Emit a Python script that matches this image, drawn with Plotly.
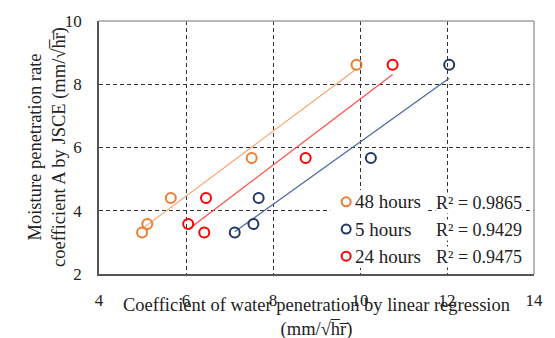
import numpy as np
import plotly.graph_objects as go

# Coefficient of water penetration by linear regression (x) vs
# moisture penetration rate coefficient A by JSCE (y)
series_names = ["48 hours", "5 hours", "24 hours"]
x_48h = [4.99, 5.11, 5.65, 7.51, 9.92]
y_48h = [3.31, 3.58, 4.40, 5.67, 8.62]
x_5h = [7.12, 7.55, 7.67, 10.25, 12.05]
y_5h = [3.31, 3.58, 4.40, 5.67, 8.62]
x_24h = [6.05, 6.42, 6.46, 8.75, 10.75]
y_24h = [3.58, 3.31, 4.40, 5.67, 8.62]
r2_labels = ["R² = 0.9865", "R² = 0.9429", "R² = 0.9475"]

x_ticks = [4, 6, 8, 10, 12, 14]
y_ticks = [2, 4, 6, 8, 10]

marker_colors = ["#ED7D31", "#203864", "#FF0000"]
line_colors = ["#F4A46A", "#4A66A0", "#FF4A4A"]

FONT = "Liberation Serif"
TXT = "#222222"

# plot area in pixels (margins below), used to place the key
L, T, W, H = 99, 18, 440, 256


def px_x(p):
    return (p - L) / W


def px_y(p):
    return (T + H - p) / H


fig = go.Figure()

data = [(x_48h, y_48h), (x_5h, y_5h), (x_24h, y_24h)]

# linear trend lines (least squares) over each series' x range
for (xs, ys), lc in zip(data, line_colors):
    xs_a = np.array(xs)
    k, b = np.polyfit(xs_a, np.array(ys), 1)
    xl = np.array([xs_a.min(), xs_a.max()])
    fig.add_trace(go.Scatter(x=xl, y=k * xl + b, mode="lines",
                             line=dict(color=lc, width=1.2),
                             showlegend=False, hoverinfo="skip"))

for name, (xs, ys), mc in zip(series_names, data, marker_colors):
    fig.add_trace(go.Scatter(x=xs, y=ys, mode="markers", name=name,
                             showlegend=False,
                             marker=dict(symbol="circle-open", size=10,
                                         color=mc, line=dict(width=2, color=mc))))

# key: white panel, open-circle symbols, series names and R² values
fig.add_shape(type="rect", xref="paper", yref="paper", layer="above",
              x0=px_x(333), x1=px_x(430), y0=px_y(268), y1=px_y(189),
              fillcolor="white", line=dict(width=0))
row_y = [201, 228.5, 256]
for name, mc, r2, ry in zip(series_names, marker_colors, r2_labels, row_y):
    fig.add_shape(type="circle", xref="paper", yref="paper", layer="above",
                  xsizemode="pixel", ysizemode="pixel",
                  xanchor=px_x(349), yanchor=px_y(ry),
                  x0=-4.5, x1=4.5, y0=-4.5, y1=4.5,
                  line=dict(color=mc, width=2))
    fig.add_annotation(text=name, xref="paper", yref="paper",
                       x=px_x(357), y=px_y(ry), xanchor="left", yanchor="middle",
                       showarrow=False, borderpad=0,
                       font=dict(family=FONT, size=19, color=TXT))
    fig.add_annotation(text=r2, xref="paper", yref="paper",
                       x=px_x(528), y=px_y(ry + 1), xanchor="right", yanchor="middle",
                       showarrow=False, bgcolor="white", borderpad=0,
                       font=dict(family=FONT, size=18, color=TXT))

# frame: dark left/bottom axes, lighter top/right edges
fig.add_shape(type="line", xref="paper", yref="paper", x0=0, x1=1, y0=1, y1=1,
              line=dict(color="#A0A0A0", width=1.5))
fig.add_shape(type="line", xref="paper", yref="paper", x0=1, x1=1, y0=0, y1=1,
              line=dict(color="#A0A0A0", width=1.5))

fig.add_annotation(text="Coefficient of water penetration by linear regression<br>(mm/√h̅r̅)",
                   xref="paper", yref="paper", x=0.5, y=0, xanchor="center",
                   yanchor="top", yshift=-18.5, showarrow=False,
                   font=dict(family=FONT, size=18.5, color=TXT))
fig.add_annotation(text="Moisture penetration rate<br>coefficient A by JSCE (mm/√h̅r̅)",
                   xref="paper", yref="paper", x=0, y=0.5, xanchor="right",
                   yanchor="middle", xshift=-27, textangle=-90, showarrow=False,
                   font=dict(family=FONT, size=18.5, color=TXT))

grid = dict(showgrid=True, gridcolor="#333333", gridwidth=1, griddash="4px,3px")

fig.update_xaxes(range=[4, 14], tickvals=x_ticks, zeroline=False,
                 showline=True, linecolor="#555555", linewidth=1.5,
                 ticks="", ticklabelstandoff=10,
                 tickfont=dict(family=FONT, size=17, color=TXT), **grid)
fig.update_yaxes(range=[2, 10], tickvals=y_ticks, zeroline=False,
                 showline=True, linecolor="#555555", linewidth=1.5,
                 ticks="", ticklabelstandoff=12,
                 tickfont=dict(family=FONT, size=17, color=TXT), **grid)

fig.update_layout(
    width=555, height=338,
    margin=dict(l=L, r=555 - L - W, t=T, b=338 - T - H),
    plot_bgcolor="white", paper_bgcolor="white",
    font=dict(family=FONT, color=TXT),
    showlegend=False,
)

fig.write_html("out.html")
